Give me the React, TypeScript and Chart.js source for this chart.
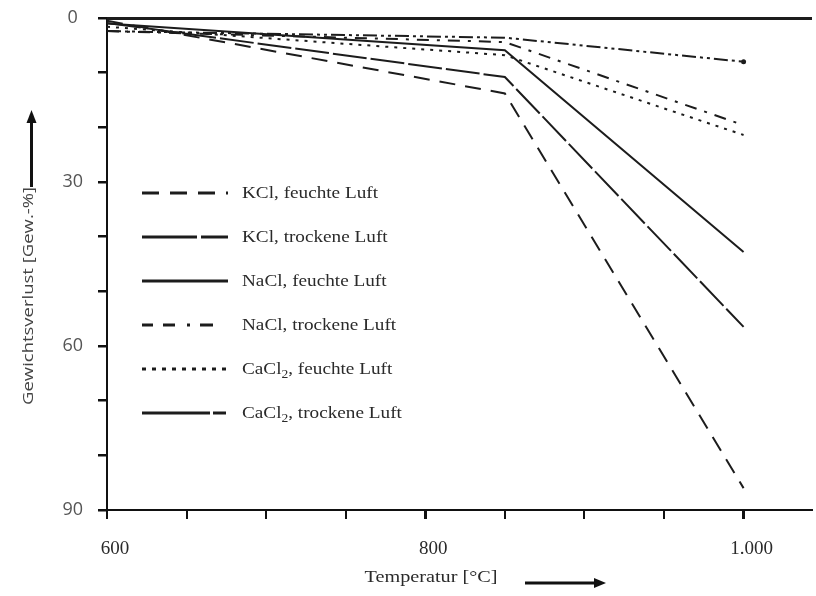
import React, { useEffect, useRef } from "react";
import { Chart, registerables } from "chart.js";

Chart.register(...registerables);

// ---- data ----
const temperatures = [600, 850, 1000];
const kclHumid = [0.5, 13.8, 86.0];
const kclDry = [0.9, 10.8, 56.5];
const naclHumid = [1.0, 5.9, 42.8];
const naclDry = [2.4, 4.4, 19.6];
const cacl2Humid = [1.6, 6.8, 21.4];
const cacl2Dry = [2.4, 3.6, 8.0];

const seriesLabels = [
  "KCl, feuchte Luft",
  "KCl, trockene Luft",
  "NaCl, feuchte Luft",
  "NaCl, trockene Luft",
  "CaCl₂, feuchte Luft",
  "CaCl₂, trockene Luft",
];

const xTickValues = [600, 650, 700, 750, 800, 850, 900, 950, 1000];
const xTickLabels: Record<number, string> = { 600: "600", 800: "800", 1000: "1.000" };
const yTickValues = [0, 10, 20, 30, 40, 50, 60, 70, 80, 90];
const yTickLabels: Record<number, string> = { 0: "0", 30: "30", 60: "60", 90: "90" };
const xAxisTitle = "Temperatur [°C]";
const yAxisTitle = "Gewichtsverlust [Gew.-%]";

// ---- styles ----
const LINE_COLOR = "#1c1c1c";
const TEXT_COLOR = "#2a2a2a";
const lineDashes: number[][] = [
  [16, 10],
  [34, 4],
  [],
  [12, 8, 3, 8],
  [3, 6],
  [14, 4, 3, 4, 3, 4],
];
const legendDashes: number[][] = [
  [17, 11],
  [55, 4],
  [],
  [11, 10, 12, 12, 3, 10, 13, 100],
  [4, 6],
  [68, 3, 13, 100],
];

function drawScaledText(
  ctx: CanvasRenderingContext2D,
  text: string,
  x: number,
  y: number,
  sx: number,
  align: CanvasTextAlign
) {
  ctx.save();
  ctx.translate(x, y);
  ctx.scale(sx, 1);
  ctx.textAlign = align;
  ctx.fillText(text, 0, 0);
  ctx.restore();
}

function drawLegendLabel(ctx: CanvasRenderingContext2D, label: string, x: number, y: number, sx: number) {
  ctx.save();
  ctx.translate(x, y);
  ctx.scale(sx, 1);
  ctx.textAlign = "left";
  ctx.textBaseline = "middle";
  const parts = label.split("₂");
  let cx = 0;
  parts.forEach((p, i) => {
    ctx.font = "17px 'Liberation Serif'";
    ctx.fillText(p, cx, 0);
    cx += ctx.measureText(p).width;
    if (i < parts.length - 1) {
      ctx.font = "12px 'Liberation Serif'";
      ctx.fillText("2", cx, 5);
      cx += ctx.measureText("2").width;
    }
  });
  ctx.restore();
}

const decorPlugin = {
  id: "decor",
  afterDraw(chart: any) {
    const ctx: CanvasRenderingContext2D = chart.ctx;
    const area = chart.chartArea;
    // top frame line
    ctx.save();
    ctx.strokeStyle = LINE_COLOR;
    ctx.lineWidth = 3;
    ctx.beginPath();
    ctx.moveTo(area.left, area.top + 0.5);
    ctx.lineTo(area.right, area.top + 0.5);
    ctx.stroke();
    ctx.restore();

    // legend
    const lx0 = 142, lx1 = 228, tx = 242, ly0 = 193, step = 44;
    chart.data.datasets.forEach((ds: any, i: number) => {
      const y = ly0 + i * step;
      ctx.save();
      ctx.strokeStyle = LINE_COLOR;
      ctx.lineWidth = 3;
      ctx.setLineDash(legendDashes[i]);
      ctx.beginPath();
      ctx.moveTo(lx0, y);
      ctx.lineTo(lx1, y);
      ctx.stroke();
      ctx.restore();
      ctx.save();
      ctx.fillStyle = TEXT_COLOR;
      drawLegendLabel(ctx, ds.label, tx, y + 1, 1.13);
      ctx.restore();
    });

    // x title + arrow
    ctx.save();
    ctx.fillStyle = TEXT_COLOR;
    ctx.font = "17px 'Liberation Serif'";
    ctx.textBaseline = "middle";
    const w = ctx.measureText(xAxisTitle).width;
    drawScaledText(ctx, xAxisTitle, 431, 578, 133 / w, "center");
    ctx.restore();
    ctx.save();
    ctx.strokeStyle = "#111";
    ctx.fillStyle = "#111";
    ctx.lineWidth = 3;
    ctx.beginPath();
    ctx.moveTo(525, 583);
    ctx.lineTo(596, 583);
    ctx.stroke();
    ctx.beginPath();
    ctx.moveTo(606, 583);
    ctx.lineTo(594, 578);
    ctx.lineTo(594, 588);
    ctx.closePath();
    ctx.fill();
    ctx.restore();

    // y title + arrow
    ctx.save();
    ctx.fillStyle = "#444";
    ctx.font = "15px 'Open Sans'";
    ctx.textBaseline = "middle";
    const wy = ctx.measureText(yAxisTitle).width;
    ctx.translate(29, 296);
    ctx.rotate(-Math.PI / 2);
    drawScaledText(ctx, yAxisTitle, 0, 0, 218 / wy, "center");
    ctx.restore();
    ctx.save();
    ctx.strokeStyle = "#111";
    ctx.fillStyle = "#111";
    ctx.lineWidth = 3;
    ctx.beginPath();
    ctx.moveTo(31.5, 187);
    ctx.lineTo(31.5, 122);
    ctx.stroke();
    ctx.beginPath();
    ctx.moveTo(31.5, 110);
    ctx.lineTo(26.5, 123);
    ctx.lineTo(36.5, 123);
    ctx.closePath();
    ctx.fill();
    ctx.restore();
  },
};

export default function App() {
  const ref = useRef<HTMLCanvasElement | null>(null);
  useEffect(() => {
    if (!ref.current) return;
    const series = [kclHumid, kclDry, naclHumid, naclDry, cacl2Humid, cacl2Dry];
    const chart = new Chart(ref.current, {
      type: "line",
      data: {
        datasets: series.map((vals, i) => ({
          label: seriesLabels[i],
          data: temperatures.map((t, j) => ({ x: t, y: vals[j] })),
          borderColor: LINE_COLOR,
          backgroundColor: LINE_COLOR,
          borderWidth: 2,
          borderDash: lineDashes[i],
          pointRadius: i === 5 ? [0, 0, 2.5] : 0,
          pointBorderWidth: 0,
          tension: 0,
          fill: false,
        })),
      },
      options: {
        animation: false,
        responsive: false,
        maintainAspectRatio: false,
        layout: { padding: { top: 18, right: 0, left: 0, bottom: 0 } },
        plugins: { legend: { display: false }, tooltip: { enabled: false } },
        scales: {
          x: {
            type: "linear",
            min: 600,
            max: 1043,
            afterBuildTicks: (s: any) => {
              s.ticks = xTickValues.map((v) => ({ value: v }));
            },
            afterFit: (s: any) => {
              s.height = 86;
            },
            border: { color: "#111", width: 2 },
            grid: {
              drawOnChartArea: false,
              drawTicks: true,
              tickLength: 9,
              color: "#111",
              lineWidth: (c: any) => (c.tick && (c.tick.value === 800 || c.tick.value === 1000) ? 3 : 2),
            },
            ticks: {
              autoSkip: false,
              maxRotation: 0,
              padding: 19,
              labelOffset: 8,
              color: TEXT_COLOR,
              font: { family: "'Liberation Serif'", size: 19 },
              callback: (v: any) => xTickLabels[v as number] ?? "",
            },
          },
          y: {
            type: "linear",
            reverse: true,
            min: 0,
            max: 90,
            afterBuildTicks: (s: any) => {
              s.ticks = yTickValues.map((v) => ({ value: v }));
            },
            afterFit: (s: any) => {
              s.width = 107;
              s.paddingTop = 0;
              s.paddingBottom = 0;
            },
            border: { color: "#111", width: 2 },
            grid: {
              drawOnChartArea: false,
              drawTicks: true,
              tickLength: 9,
              color: "#111",
              lineWidth: 2.5,
            },
            ticks: {
              autoSkip: false,
              padding: 15,
              crossAlign: "center",
              color: "#555",
              font: { family: "'Open Sans'", size: 18 },
              callback: (v: any) => yTickLabels[v as number] ?? "",
            },
          },
        },
      },
      plugins: [decorPlugin],
    });
    return () => chart.destroy();
  }, []);
  return (
    <div style={{ position: "fixed", left: 0, top: 0, width: 816, height: 596, background: "#fff" }}>
      <canvas ref={ref} width={816} height={596} style={{ display: "block", width: 816, height: 596 }} />
    </div>
  );
}
